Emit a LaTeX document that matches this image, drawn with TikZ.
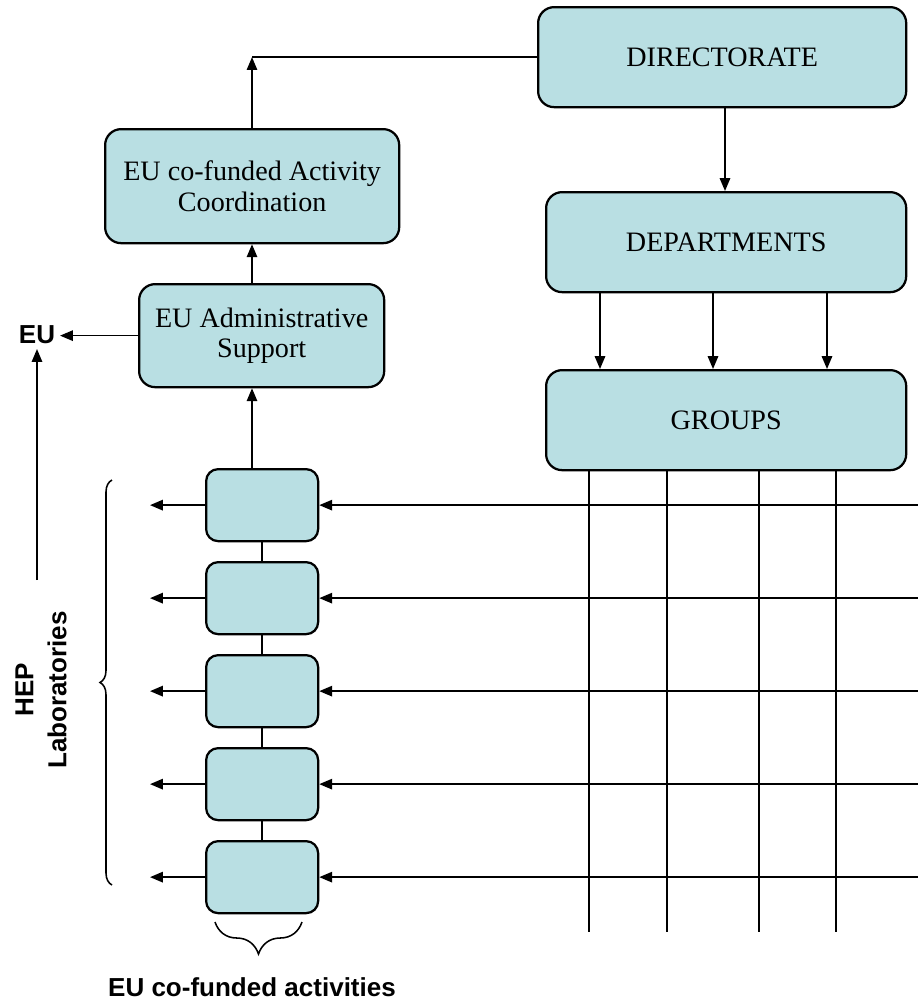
\documentclass[tikz,border=0pt]{standalone}
\usepackage{fontspec}
\setmainfont{Liberation Serif}
\setsansfont{Liberation Sans}
\usetikzlibrary{arrows.meta, decorations.pathreplacing}
\definecolor{boxblue}{RGB}{185,223,227}

\begin{document}
\begin{tikzpicture}[x = 0.025cm, y = -0.025cm,
        box/.style = {draw, fill = boxblue, rounded corners = 0.4cm, line width = 1.6pt, anchor = north west, inner sep = 0pt, align = center, font = \fontsize{20}{21.5}\selectfont},
        small/.style = {box, rounded corners = 0.3cm, minimum width = 2.8cm, minimum height = 1.8cm},
        link/.style = {line width = 1.1pt},
        arr/.style = {link, -{Triangle[length = 0.32cm, width = 0.26cm]}},
        lbl/.style = {font = \sffamily\bfseries\fontsize{18.5}{23.5}\selectfont, align = center}]
    \useasboundingbox (0, 0) rectangle (918, 1008);

    \node[box, minimum width = 9.2cm, minimum height = 2.5cm] (dir) at (537, 6) {DIRECTORATE};
    \node[box, minimum width = 9cm, minimum height = 2.5cm] (dep) at (545, 191) {DEPARTMENTS};
    \node[box, minimum width = 9cm, minimum height = 2.5cm] (grp) at (545, 369) {GROUPS};
    \node[box, minimum width = 7.35cm, minimum height = 2.85cm] (coord) at (104, 128) {EU co-funded Activity\\Coordination};
    \node[box, minimum width = 6.125cm, minimum height = 2.575cm] (adm) at (138, 283) {EU Administrative\\Support};
    \foreach \i in {1,...,5}
        \node[small] (act\i) at (205, 375 + 93*\i) {};

    \node[lbl] (eu) at (37, 335) {EU};
    \node[lbl, rotate = 90] (hep) at (41, 690) {HEP\\Laboratories};
    \node[lbl] (cofund) at (252, 987) {EU co-funded activities};
    \coordinate (top) at (dir.west -| 252,0);
    \coordinate (hepfoot) at (37, 580);

    \draw[link, line width = 1.6pt] (dir.west) -- (top);
    \draw[arr] (coord.north -| top) -- (top);
    \draw[arr] (adm.north -| top) -- (coord.south -| top);
    \draw[arr] (act1.north -| top) -- (adm.south -| top);
    \draw[arr] (adm.west) -- (eu.east |- adm.west);
    \draw[arr] (hepfoot) -- (eu.south);
    \draw[arr] (dir.south -| 725,0) -- (dep.north -| 725,0);
    \foreach \gx in {600, 713, 827}
        \draw[arr] (dep.south -| \gx,0) -- (grp.north -| \gx,0);
    \foreach \gx in {589, 667, 759, 836}
        \draw[link] (grp.south -| \gx,0) -- (\gx, 932);
    \foreach \i/\j in {1/2, 2/3, 3/4, 4/5}
        \draw[link] (act\i.south) -- (act\j.north);
    \foreach \i in {1,...,5} {
        \draw[arr] (act\i.east -| 918,0) -- (act\i.east);
        \draw[arr] (act\i.west) -- (act\i.west -| 150,0);
    }

    \draw[link, decorate, decoration = {brace, amplitude = 0.3cm}] (112, 885) -- (112, 480);
    \draw[link, decorate, decoration = {brace, amplitude = 0.8cm}] (302, 922) -- (215, 922);
\end{tikzpicture}
\end{document}
